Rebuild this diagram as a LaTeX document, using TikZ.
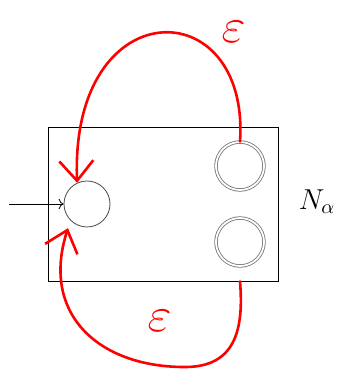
\documentclass[tikz,border=0pt]{standalone}
\usepackage{amsmath}
\usepackage{tikz}
\usetikzlibrary{positioning, arrows.meta, calc}

\begin{document}
\begin{tikzpicture}[
  x=0.5pt, y=0.5pt,
  box/.style={draw, thin, minimum width=115pt, minimum height=77pt, inner sep=0pt},
  inport/.style={circle, draw=black!70, thin, minimum size=23pt, inner sep=0pt},
  outport/.style={circle, draw=black!55, line width=0.4pt, double, double distance=0.9pt,
    minimum size=24pt, inner sep=0pt},
  feedback/.style={red, line width=1.3pt, line cap=round,
    -{Straight Barb[length=10pt, width=17pt, line width=1.3pt]}},
  eps/.style={text=red, inner sep=0pt, font=\fontsize{28}{28}\selectfont},
  tag/.style={font=\Large}
  ]
  \useasboundingbox (0,0) rectangle (340,370);

  % Nodes
  \node[box]     (blk)  at (163,166) {};
  \node[inport]  (in)   at (87,166)  {};
  \node[outport] (outA) at (240,204) {};
  \node[outport] (outB) at (240,128) {};
  \node[tag]     (name) at (317,168) {$N_\alpha$};
  \coordinate (src) at (9,166);

  % Arrows
  \draw[->] (src) -- (in.west);
  \draw[feedback] (outA.north) .. controls (250,380) and (70,380) .. (in.115);
  \draw[feedback, shorten >=4pt] (blk.south -| outB) .. controls (244,40) and (235,4) .. (187,3)
    .. controls (100,2) and (40,55) .. (in.225);

  % Labels
  \node[eps, rotate=-5] (epsA) at (234,338) {$\varepsilon$};
  \node[eps, rotate=-5] (epsB) at (160,49)  {$\varepsilon$};
\end{tikzpicture}
\end{document}
